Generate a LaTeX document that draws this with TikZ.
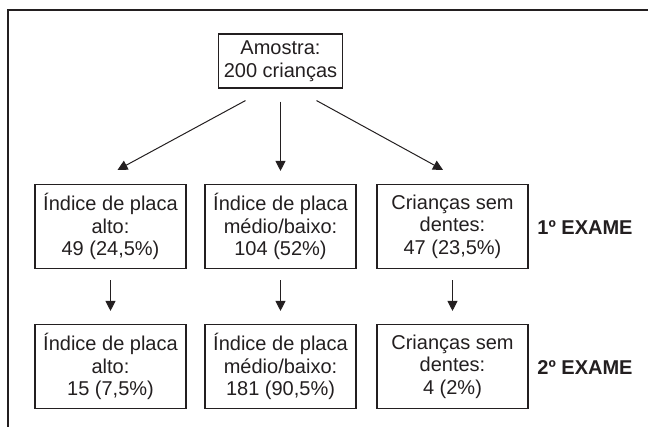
\documentclass[tikz,border=0pt]{standalone}
\usepackage{fontspec}
\setmainfont{Liberation Sans}
\usepackage{tikz}
\usetikzlibrary{arrows.meta}
\definecolor{ink}{HTML}{231F20}
\tikzset{
  frame/.style={draw=ink, line width=2pt},
  box/.style={draw=ink, line width=1.1pt, align=center, inner sep=0pt,
    minimum width=151pt, minimum height=84pt, text=ink,
    font=\fontsize{20}{22.5}\selectfont},
  topbox/.style={box, minimum width=124pt, minimum height=54pt},
  arr/.style={draw=ink, line width=1pt, -{Triangle[length=10pt,width=10pt]}},
  exame/.style={text=ink, font=\fontsize{20}{22.5}\selectfont\bfseries}
}

\begin{document}
\begin{tikzpicture}[x=1pt,y=-1pt]
  \useasboundingbox (0,0) rectangle (648,427);
  \draw[frame] (8,427) -- (8,10) -- (648,10);

  \node[topbox] (amostra) at (280.5,61) {Amostra:\\200 crianças};

  \node[box] (alto1) at (110.5,226.5) {Índice de placa\\alto:\\49 (24,5\%)};
  \node[box] (medio1) at (280.5,226.5) {Índice de placa\\médio/baixo:\\104 (52\%)};
  \node[box] (sem1) at (452.5,226.5) {Crianças sem\\dentes:\\47 (23,5\%)};
  \node[exame] (exame1) at (585,228) {1º EXAME};

  \node[box] (alto2) at (110.5,366.5) {Índice de placa\\alto:\\15 (7,5\%)};
  \node[box] (medio2) at (280.5,366.5) {Índice de placa\\médio/baixo:\\181 (90,5\%)};
  \node[box] (sem2) at (452.5,366.5) {Crianças sem\\dentes:\\4 (2\%)};
  \node[exame] (exame2) at (585,368) {2º EXAME};

  \draw[arr] ([xshift=-35pt,yshift=-12pt]amostra.south) -- ([xshift=7pt,yshift=14pt]alto1.north);
  \draw[arr] ([yshift=-13pt]amostra.south) -- ([yshift=13pt]medio1.north);
  \draw[arr] ([xshift=36pt,yshift=-12pt]amostra.south) -- ([xshift=-9.5pt,yshift=14pt]sem1.north);

  \foreach \n in {alto,medio,sem}
    \draw[arr] ([yshift=-11pt]\n1.south) -- ([yshift=13pt]\n2.north);
\end{tikzpicture}
\end{document}
